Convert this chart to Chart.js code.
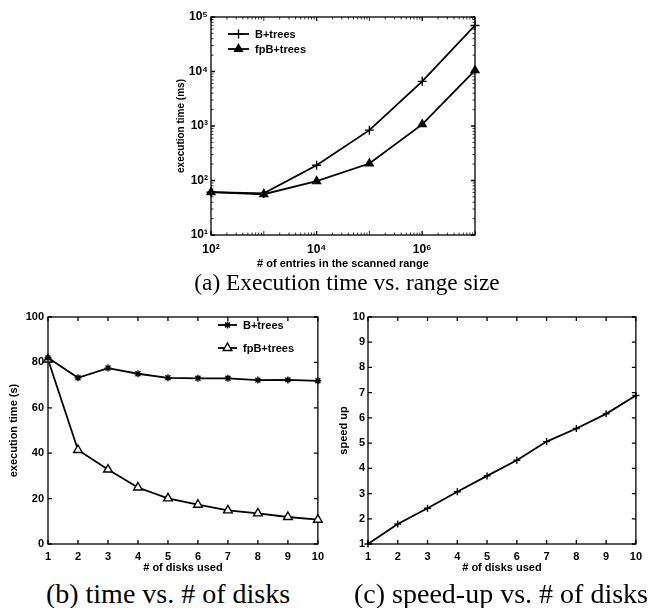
<!DOCTYPE html>
<html>
<head>
<meta charset="utf-8">
<script src="https://cdn.jsdelivr.net/npm/chart.js@4.4.0/dist/chart.umd.min.js"></script>
<style>
  body { margin: 0; background: #fff; width: 648px; height: 608px; position: relative; overflow: hidden; }
  .box { position: absolute; }
  .cap { position: absolute; font-family: "Liberation Serif", "Times New Roman", serif; color: #000; white-space: nowrap; transform: translateX(-50%); }
</style>
</head>
<body>
<div class="box" style="left:150px; top:0; width:340px; height:275px;"><canvas id="chartA"></canvas></div>
<div class="box" style="left:0; top:300px; width:330px; height:275px;"><canvas id="chartB"></canvas></div>
<div class="box" style="left:320px; top:300px; width:328px; height:275px;"><canvas id="chartC"></canvas></div>
<div class="cap" style="left:347px; top:271px; font-size:23.3px; line-height:23px;">(a) Execution time vs. range size</div>
<div class="cap" style="left:168px; top:580px; font-size:28px; line-height:28px;">(b) time vs. # of disks</div>
<div class="cap" style="left:501px; top:580px; font-size:28px; line-height:28px;">(c) speed-up vs. # of disks</div>

<script>
// données
const rangeSizes = [1e2, 1e3, 1e4, 1e5, 1e6, 1e7];
const bTreesRange = [61, 58, 191, 840, 6600, 70000];
const fpbTreesRange = [61, 56, 97, 205, 1070, 10500];
const rangeXTicks = [1e2, 1e4, 1e6];
const rangeYTicks = [1e1, 1e2, 1e3, 1e4, 1e5];

const disks = [1, 2, 3, 4, 5, 6, 7, 8, 9, 10];
const bTreesDisks = [82, 73.2, 77.5, 75, 73.2, 73, 73, 72.2, 72.3, 71.9];
const fpbTreesDisks = [81.3, 41.4, 32.8, 24.9, 20.1, 17.3, 14.8, 13.5, 11.9, 10.7];
const diskYTicks = [0, 20, 40, 60, 80, 100];

const speedUp = [1.0, 1.79, 2.42, 3.07, 3.70, 4.32, 5.06, 5.58, 6.16, 6.89];
const speedYTicks = [1, 2, 3, 4, 5, 6, 7, 8, 9, 10];

Chart.defaults.font.family = '"Liberation Sans", Arial, sans-serif';
Chart.defaults.color = '#000';

const sup = { '1': '\u00b9', '2': '\u00b2', '3': '\u00b3', '4': '\u2074', '5': '\u2075', '6': '\u2076', '7': '\u2077' };
function powLabel(v) {
  return '10' + sup[String(Math.round(Math.log10(v)))];
}

function toPoints(xs, ys) {
  return xs.map((x, i) => ({ x: x, y: ys[i] }));
}

// petit marqueur pour la légende
function marker(ctx, ds, x, y) {
  ctx.save();
  ctx.fillStyle = ds.pointBackgroundColor;
  ctx.strokeStyle = '#000';
  ctx.lineWidth = ds.pointBorderWidth;
  if (Chart.helpers && Chart.helpers.drawPoint) {
    Chart.helpers.drawPoint(ctx, { pointStyle: ds.pointStyle, radius: ds.pointRadius, borderWidth: ds.pointBorderWidth, rotation: 0 }, x, y);
  }
  ctx.restore();
}

// cadre style matlab : boîte, graduations vers l'intérieur, légende
const framePlugin = {
  id: 'frame',
  beforeDatasetsDraw(chart, args, opts) {
    const ctx = chart.ctx;
    const a = chart.chartArea;
    const xs = chart.scales.x, ys = chart.scales.y;
    ctx.save();
    ctx.strokeStyle = '#000';
    ctx.lineWidth = 1.3;
    ctx.strokeRect(a.left, a.top, a.right - a.left, a.bottom - a.top);
    ctx.beginPath();
    xs.ticks.forEach(t => {
      const px = xs.getPixelForValue(t.value);
      ctx.moveTo(px, a.bottom); ctx.lineTo(px, a.bottom - 4);
      ctx.moveTo(px, a.top); ctx.lineTo(px, a.top + 4);
    });
    ys.ticks.forEach(t => {
      const py = ys.getPixelForValue(t.value);
      ctx.moveTo(a.left, py); ctx.lineTo(a.left + 4, py);
      ctx.moveTo(a.right, py); ctx.lineTo(a.right - 4, py);
    });
    ctx.stroke();
    // graduations secondaires (échelle log)
    ctx.lineWidth = 0.8;
    ctx.beginPath();
    if (opts.minorX) {
      for (let d = xs.min; d < xs.max; d *= 10) {
        for (let k = 2; k <= 9; k++) {
          const px = xs.getPixelForValue(d * k);
          ctx.moveTo(px, a.bottom); ctx.lineTo(px, a.bottom - 2.5);
          ctx.moveTo(px, a.top); ctx.lineTo(px, a.top + 2.5);
        }
      }
      [1e3, 1e5, 1e7].forEach(v => {
        const px = xs.getPixelForValue(v);
        ctx.moveTo(px, a.bottom); ctx.lineTo(px, a.bottom - 4);
        ctx.moveTo(px, a.top); ctx.lineTo(px, a.top + 4);
      });
    }
    if (opts.minorY) {
      for (let d = ys.min; d < ys.max; d *= 10) {
        for (let k = 2; k <= 9; k++) {
          const py = ys.getPixelForValue(d * k);
          ctx.moveTo(a.left, py); ctx.lineTo(a.left + 2.5, py);
          ctx.moveTo(a.right, py); ctx.lineTo(a.right - 2.5, py);
        }
      }
    }
    ctx.stroke();
    ctx.restore();
  },
  afterDraw(chart, args, opts) {
    if (!opts.legend) return;
    const ctx = chart.ctx;
    const L = opts.legend;
    ctx.save();
    ctx.font = 'bold 11px "Liberation Sans", Arial, sans-serif';
    ctx.textBaseline = 'middle';
    ctx.fillStyle = '#000';
    chart.data.datasets.forEach((ds, i) => {
      const y = L.y + i * L.dy;
      ctx.strokeStyle = '#000';
      ctx.lineWidth = ds.borderWidth;
      ctx.beginPath();
      ctx.moveTo(L.x, y);
      ctx.lineTo(L.x + L.len, y);
      ctx.stroke();
      marker(ctx, ds, L.x + L.len / 2, y);
      ctx.fillText(ds.label, L.x + L.len + 6, y + 0.5);
    });
    ctx.restore();
  }
};

function lineSet(label, pts, style, radius, fill) {
  return {
    label: label,
    data: pts,
    borderColor: '#000',
    borderWidth: 1.8,
    pointStyle: style,
    pointRadius: radius,
    pointBorderWidth: 1.4,
    pointBorderColor: '#000',
    pointBackgroundColor: fill,
    tension: 0,
    clip: false
  };
}

function makeChart(id, datasets, xCfg, yCfg, frameOpts, layoutPad) {
  const ctx = document.getElementById(id).getContext('2d');
  return new Chart(ctx, {
    type: 'line',
    data: { datasets: datasets },
    options: {
      responsive: true,
      maintainAspectRatio: false,
      animation: false,
      devicePixelRatio: 1,
      layout: { padding: layoutPad },
      plugins: { legend: { display: false }, tooltip: { enabled: false }, frame: frameOpts },
      scales: { x: xCfg, y: yCfg }
    },
    plugins: [framePlugin]
  });
}

function axis(base) {
  const cfg = {
    grid: { display: false, drawTicks: false },
    border: { display: false },
    ticks: { font: { size: base.tickSize || 11, weight: 'bold' }, padding: base.pad, maxRotation: 0, autoSkip: false },
    title: { display: true, text: base.title, font: { size: base.titleSize || 11, weight: 'bold' }, padding: base.titlePad },
    afterFit: base.fit
  };
  Object.assign(cfg, base.extra);
  if (base.tickList) {
    const list = base.tickList;
    cfg.afterBuildTicks = s => { s.ticks = list.map(v => ({ value: v })); };
  }
  if (base.cb) cfg.ticks.callback = base.cb;
  return cfg;
}

// (a) temps d'exécution vs taille de l'intervalle
makeChart('chartA',
  [
    lineSet('B+trees', toPoints(rangeSizes, bTreesRange), 'cross', 4.5, '#000'),
    lineSet('fpB+trees', toPoints(rangeSizes, fpbTreesRange), 'triangle', 4.5, '#000')
  ],
  axis({ title: '# of entries in the scanned range', pad: 7, tickSize: 12, titlePad: { top: 0, bottom: 4 },
         fit: s => { s.height = 40; }, tickList: rangeXTicks, cb: v => powLabel(v),
         extra: { type: 'logarithmic', min: 1e2, max: 1e7 } }),
  axis({ title: 'execution time (ms)', titleSize: 10, pad: 3, tickSize: 12, titlePad: { top: 25, bottom: 0 },
         fit: s => { s.width = 61; }, tickList: rangeYTicks, cb: v => powLabel(v),
         extra: { type: 'logarithmic', min: 1e1, max: 1e5 } }),
  { minorX: true, minorY: true, legend: { x: 78, y: 34, dy: 15, len: 21 } },
  { top: 17, right: 15, left: 0, bottom: 0 }
);

// (b) temps vs nombre de disques
makeChart('chartB',
  [
    lineSet('B+trees', toPoints(disks, bTreesDisks), 'star', 3.5, '#000'),
    lineSet('fpB+trees', toPoints(disks, fpbTreesDisks), 'triangle', 5, '#fff')
  ],
  axis({ title: '# of disks used', pad: 6, titlePad: { top: 0, bottom: 0 },
         fit: s => { s.height = 31; }, tickList: disks,
         extra: { type: 'linear', min: 1, max: 10 } }),
  axis({ title: 'execution time (s)', pad: 4, titlePad: { top: 7, bottom: 0 },
         fit: s => { s.width = 48; }, tickList: diskYTicks,
         extra: { type: 'linear', min: 0, max: 100 } }),
  { legend: { x: 218, y: 25, dy: 23, len: 19 } },
  { top: 17, right: 11, left: 0, bottom: 0 }
);

// (c) accélération vs nombre de disques
makeChart('chartC',
  [
    lineSet('speed up', toPoints(disks, speedUp), 'cross', 3.5, '#000')
  ],
  axis({ title: '# of disks used', pad: 6, titlePad: { top: 0, bottom: 0 },
         fit: s => { s.height = 31; }, tickList: disks,
         extra: { type: 'linear', min: 1, max: 10 } }),
  axis({ title: 'speed up', pad: 3, titlePad: { top: 17, bottom: 0 },
         fit: s => { s.width = 48; }, tickList: speedYTicks,
         extra: { type: 'linear', min: 1, max: 10 } }),
  {},
  { top: 17, right: 9, left: 0, bottom: 0 }
);
</script>
</body>
</html>
